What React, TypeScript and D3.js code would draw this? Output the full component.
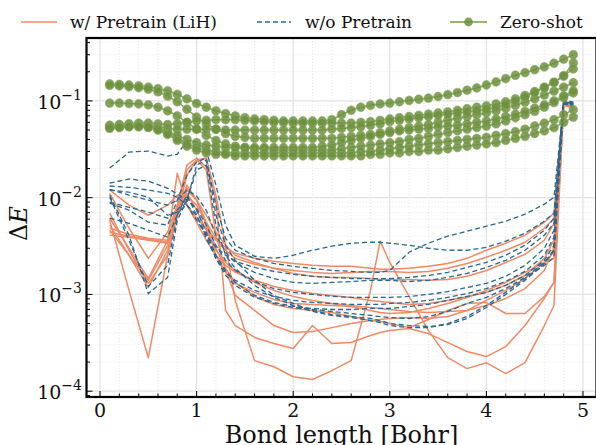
import React from "react";
import * as d3 from "d3";

// Bond lengths for the fine-tuned curves
const X_LINE = [0.1, 0.3, 0.5, 0.7, 0.8, 0.9, 1.0, 1.1, 1.2, 1.3, 1.4, 1.6, 1.8, 2.0, 2.2, 2.4, 2.6, 2.8, 2.9, 3.0, 3.2, 3.4, 3.6, 3.8, 4.0, 4.2, 4.4, 4.6, 4.7, 4.8, 4.9];

// Bond lengths for zero-shot curves
const X_ZS = [0.1, 0.2, 0.3, 0.4, 0.5, 0.6, 0.7, 0.8, 0.9, 1.0, 1.1, 1.2, 1.3, 1.4, 1.5, 1.6, 1.7, 1.8, 1.9, 2.0, 2.1, 2.2, 2.3, 2.4, 2.5, 2.6, 2.7, 2.8, 2.9, 3.0, 3.1, 3.2, 3.3, 3.4, 3.5, 3.6, 3.7, 3.8, 3.9, 4.0, 4.1, 4.2, 4.3, 4.4, 4.5, 4.6, 4.7, 4.8, 4.9];

// w/ Pretrain (LiH)
const PRE_1 = [0.0120, 8.36e-3, 6.58e-3, 8.36e-3, 1.06e-2, 8.36e-3, 6.13e-3, 4.83e-3, 3.63e-3, 3.07e-3, 2.66e-3, 2.36e-3, 2.20e-3, 2.09e-3, 2.00e-3, 1.95e-3, 1.95e-3, 1.86e-3, 1.82e-3, 1.82e-3, 1.86e-3, 1.95e-3, 2.09e-3, 2.36e-3, 2.86e-3, 3.38e-3, 4.09e-3, 5.58e-3, 6.93e-3, 0.0932, 0.0888];
const PRE_2 = [1.11e-2, 4.83e-3, 2.36e-3, 4.39e-3, 8.36e-3, 1.06e-2, 8.36e-3, 5.58e-3, 3.80e-3, 2.86e-3, 2.36e-3, 2.05e-3, 1.86e-3, 1.77e-3, 1.69e-3, 1.65e-3, 1.69e-3, 1.73e-3, 1.73e-3, 1.73e-3, 1.69e-3, 1.73e-3, 1.86e-3, 2.09e-3, 2.42e-3, 2.86e-3, 3.46e-3, 4.83e-3, 6.13e-3, 0.0954, 0.0846];
const PRE_3 = [6.93e-3, 2.86e-3, 1.30e-3, 2.54e-3, 6.58e-3, 1.20e-2, 9.43e-3, 6.58e-3, 4.39e-3, 3.22e-3, 2.54e-3, 2.14e-3, 1.86e-3, 1.65e-3, 1.54e-3, 1.50e-3, 1.50e-3, 1.46e-3, 1.43e-3, 1.43e-3, 1.43e-3, 1.40e-3, 1.43e-3, 1.54e-3, 1.77e-3, 2.14e-3, 2.60e-3, 3.63e-3, 5.44e-3, 0.0977, 0.0867];
const PRE_4 = [6.13e-3, 3.00e-3, 1.46e-3, 3.63e-3, 1.79e-2, 8.36e-3, 5.58e-3, 3.63e-3, 2.54e-3, 2.00e-3, 1.69e-3, 1.40e-3, 1.21e-3, 1.10e-3, 1.02e-3, 9.77e-4, 9.31e-4, 8.67e-4, 8.47e-4, 8.26e-4, 7.88e-4, 8.07e-4, 8.67e-4, 9.54e-4, 1.05e-3, 1.24e-3, 1.57e-3, 2.36e-3, 3.63e-3, 0.0932, 0.0910];
const PRE_5 = [5.85e-3, 1.10e-3, 2.22e-4, 2.54e-3, 7.42e-3, 1.11e-2, 7.42e-3, 4.61e-3, 2.86e-3, 2.14e-3, 1.77e-3, 1.33e-3, 1.10e-3, 9.54e-4, 8.67e-4, 8.07e-4, 7.69e-4, 7.33e-4, 7.16e-4, 6.99e-4, 6.67e-4, 6.51e-4, 6.67e-4, 6.83e-4, 7.69e-4, 9.09e-4, 1.15e-3, 1.77e-3, 3.07e-3, 0.0910, 0.0826];
const PRE_6 = [4.83e-3, 4.19e-3, 3.80e-3, 3.63e-3, 7.42e-3, 1.93e-2, 2.45e-2, 1.93e-2, 4.09e-3, 1.77e-3, 9.77e-4, 6.83e-4, 4.77e-4, 4.04e-4, 4.13e-4, 4.54e-4, 5.00e-4, 5.37e-4, 5.50e-4, 5.64e-4, 5.77e-4, 5.64e-4, 5.91e-4, 6.83e-4, 8.67e-4, 1.10e-3, 1.46e-3, 2.14e-3, 2.73e-3, 0.0888, 0.0932];
const PRE_7 = [4.39e-3, 4.00e-3, 3.72e-3, 3.46e-3, 8.36e-3, 2.17e-2, 2.57e-2, 2.07e-2, 9.43e-3, 6.83e-4, 4.77e-4, 3.59e-4, 3.11e-4, 2.76e-4, 4.77e-4, 3.11e-4, 3.18e-4, 3.76e-4, 4.04e-4, 4.23e-4, 4.44e-4, 3.94e-4, 3.18e-4, 2.57e-4, 2.28e-4, 2.89e-4, 4.77e-4, 9.09e-4, 1.33e-3, 0.0910, 0.0867];
const PRE_8 = [5.20e-3, 2.54e-3, 1.18e-3, 2.86e-3, 6.58e-3, 1.71e-2, 2.45e-2, 2.57e-2, 1.06e-2, 3.22e-3, 8.67e-4, 2.07e-4, 1.79e-4, 1.41e-4, 1.32e-4, 1.63e-4, 2.07e-4, 1.10e-3, 3.55e-3, 2.14e-3, 9.54e-4, 4.23e-4, 2.22e-4, 1.71e-4, 1.97e-4, 1.52e-4, 1.97e-4, 4.77e-4, 7.69e-4, 0.0932, 0.0846];
const PRE_9 = [4.61e-3, 2.54e-3, 1.40e-3, 3.22e-3, 8.36e-3, 1.25e-2, 9.43e-3, 5.58e-3, 3.00e-3, 1.86e-3, 1.33e-3, 9.54e-4, 7.88e-4, 7.16e-4, 6.83e-4, 6.51e-4, 5.91e-4, 5.37e-4, 5.25e-4, 5.00e-4, 4.54e-4, 5.50e-4, 6.83e-4, 8.07e-4, 8.26e-4, 6.35e-4, 6.35e-4, 9.54e-4, 1.33e-3, 0.0954, 0.0888];
const PRE_10 = [4.09e-3, 3.90e-3, 3.63e-3, 3.38e-3, 6.58e-3, 1.35e-2, 9.43e-3, 5.20e-3, 2.54e-3, 1.69e-3, 1.30e-3, 1.05e-3, 8.88e-4, 8.07e-4, 7.88e-4, 7.69e-4, 7.51e-4, 6.83e-4, 6.51e-4, 6.35e-4, 6.51e-4, 7.16e-4, 8.07e-4, 9.31e-4, 1.10e-3, 1.33e-3, 1.69e-3, 2.14e-3, 2.36e-3, 0.0888, 0.0932];

// w/o Pretrain
const NOPRE_1 = [2.02e-2, 2.96e-2, 3.03e-2, 2.69e-2, 2.82e-2, 3.85e-2, 3.76e-2, 3.10e-2, 1.35e-2, 5.20e-3, 3.22e-3, 2.48e-3, 2.36e-3, 2.54e-3, 2.86e-3, 3.15e-3, 3.38e-3, 3.46e-3, 3.46e-3, 3.38e-3, 3.22e-3, 3.00e-3, 2.86e-3, 2.86e-3, 3.07e-3, 3.55e-3, 4.29e-3, 5.71e-3, 6.93e-3, 0.100, 0.0977];
const NOPRE_2 = [1.41e-2, 1.56e-2, 1.48e-2, 1.25e-2, 1.09e-2, 9.43e-3, 2.17e-2, 2.45e-2, 8.36e-3, 3.80e-3, 2.86e-3, 2.36e-3, 2.09e-3, 1.95e-3, 1.86e-3, 1.77e-3, 1.73e-3, 1.69e-3, 1.69e-3, 1.77e-3, 2.73e-3, 3.38e-3, 4.00e-3, 4.50e-3, 5.07e-3, 5.71e-3, 6.75e-3, 8.56e-3, 1.01e-2, 0.0977, 0.0954];
const NOPRE_3 = [1.32e-2, 1.28e-2, 1.20e-2, 1.11e-2, 1.01e-2, 8.36e-3, 5.85e-3, 4.09e-3, 3.07e-3, 2.54e-3, 2.20e-3, 1.90e-3, 1.73e-3, 1.61e-3, 1.54e-3, 1.50e-3, 1.46e-3, 1.46e-3, 1.46e-3, 1.46e-3, 1.50e-3, 1.57e-3, 1.69e-3, 1.90e-3, 2.14e-3, 2.54e-3, 3.22e-3, 4.61e-3, 6.13e-3, 0.0954, 0.0932];
const NOPRE_4 = [1.22e-2, 1.06e-2, 9.43e-3, 8.36e-3, 9.43e-3, 1.20e-2, 1.04e-2, 7.42e-3, 4.09e-3, 2.73e-3, 2.14e-3, 1.69e-3, 1.46e-3, 1.33e-3, 1.30e-3, 1.33e-3, 1.36e-3, 1.40e-3, 1.40e-3, 1.40e-3, 1.36e-3, 1.40e-3, 1.50e-3, 1.65e-3, 1.90e-3, 2.25e-3, 2.86e-3, 4.09e-3, 5.44e-3, 0.0932, 0.0954];
const NOPRE_5 = [1.06e-2, 4.09e-3, 1.02e-3, 1.50e-3, 5.85e-3, 9.43e-3, 7.77e-3, 5.20e-3, 3.22e-3, 2.25e-3, 1.77e-3, 1.36e-3, 1.15e-3, 1.05e-3, 1.00e-3, 9.54e-4, 9.31e-4, 9.31e-4, 9.31e-4, 9.31e-4, 9.54e-4, 1.00e-3, 1.07e-3, 1.18e-3, 1.30e-3, 1.54e-3, 2.00e-3, 3.00e-3, 4.61e-3, 0.0977, 0.0932];
const NOPRE_6 = [1.01e-2, 3.63e-3, 1.21e-3, 2.00e-3, 6.58e-3, 1.06e-2, 6.58e-3, 3.80e-3, 2.36e-3, 1.69e-3, 1.40e-3, 1.10e-3, 9.54e-4, 8.67e-4, 8.26e-4, 8.07e-4, 7.88e-4, 7.88e-4, 7.88e-4, 8.07e-4, 8.26e-4, 8.67e-4, 9.31e-4, 1.02e-3, 1.15e-3, 1.36e-3, 1.73e-3, 2.54e-3, 3.90e-3, 0.0954, 0.0910];
const NOPRE_7 = [8.98e-3, 7.95e-3, 7.10e-3, 6.13e-3, 7.42e-3, 1.01e-2, 7.42e-3, 4.39e-3, 2.54e-3, 1.77e-3, 1.33e-3, 9.77e-4, 8.26e-4, 7.51e-4, 7.16e-4, 6.99e-4, 6.99e-4, 7.16e-4, 7.16e-4, 7.16e-4, 7.51e-4, 7.88e-4, 8.67e-4, 9.54e-4, 1.05e-3, 1.24e-3, 1.57e-3, 2.25e-3, 3.22e-3, 0.0932, 0.0888];
const NOPRE_8 = [8.76e-3, 7.42e-3, 5.58e-3, 5.20e-3, 9.43e-3, 1.71e-2, 2.33e-2, 2.57e-2, 6.58e-3, 3.22e-3, 2.25e-3, 1.40e-3, 9.77e-4, 8.07e-4, 6.83e-4, 6.20e-4, 5.91e-4, 5.64e-4, 5.37e-4, 5.00e-4, 4.77e-4, 4.66e-4, 4.88e-4, 5.64e-4, 7.33e-4, 1.00e-3, 1.40e-3, 2.09e-3, 2.86e-3, 0.100, 0.0932];
const NOPRE_9 = [6.13e-3, 5.44e-3, 4.61e-3, 3.90e-3, 6.58e-3, 9.43e-3, 1.93e-2, 2.17e-2, 5.20e-3, 2.54e-3, 1.86e-3, 1.24e-3, 9.31e-4, 7.69e-4, 6.67e-4, 6.06e-4, 5.77e-4, 5.37e-4, 5.12e-4, 4.77e-4, 4.54e-4, 4.54e-4, 5.00e-4, 5.91e-4, 7.69e-4, 1.05e-3, 1.46e-3, 2.00e-3, 2.42e-3, 0.0954, 0.0888];
const NOPRE_10 = [1.20e-2, 1.14e-2, 1.01e-2, 6.58e-3, 7.10e-3, 8.36e-3, 6.58e-3, 4.09e-3, 2.36e-3, 1.57e-3, 1.24e-3, 9.31e-4, 8.07e-4, 7.33e-4, 6.99e-4, 6.67e-4, 6.35e-4, 6.06e-4, 5.91e-4, 5.77e-4, 5.64e-4, 5.91e-4, 6.67e-4, 8.07e-4, 9.31e-4, 1.15e-3, 1.50e-3, 2.14e-3, 2.86e-3, 0.0977, 0.0954];

// Zero-shot
const ZS_1 = [0.150, 0.148, 0.146, 0.143, 0.139, 0.134, 0.127, 0.117, 0.105, 0.094, 0.086, 0.079, 0.074, 0.070, 0.067, 0.065, 0.064, 0.063, 0.062, 0.062, 0.062, 0.062, 0.062, 0.064, 0.072, 0.080, 0.086, 0.090, 0.093, 0.095, 0.098, 0.101, 0.104, 0.107, 0.111, 0.116, 0.122, 0.129, 0.136, 0.146, 0.157, 0.170, 0.184, 0.196, 0.210, 0.225, 0.245, 0.270, 0.300];
const ZS_2 = [0.145, 0.143, 0.140, 0.137, 0.132, 0.124, 0.112, 0.098, 0.082, 0.068, 0.058, 0.051, 0.046, 0.043, 0.042, 0.041, 0.041, 0.041, 0.041, 0.041, 0.041, 0.041, 0.041, 0.041, 0.042, 0.043, 0.044, 0.045, 0.047, 0.049, 0.051, 0.053, 0.055, 0.057, 0.060, 0.063, 0.066, 0.069, 0.072, 0.075, 0.079, 0.084, 0.090, 0.097, 0.105, 0.115, 0.126, 0.139, 0.154];
const ZS_3 = [0.095, 0.095, 0.094, 0.093, 0.091, 0.086, 0.079, 0.070, 0.060, 0.051, 0.044, 0.039, 0.036, 0.034, 0.033, 0.032, 0.032, 0.031, 0.031, 0.031, 0.031, 0.031, 0.031, 0.031, 0.032, 0.033, 0.034, 0.035, 0.036, 0.037, 0.038, 0.040, 0.041, 0.043, 0.045, 0.047, 0.049, 0.051, 0.053, 0.055, 0.058, 0.062, 0.067, 0.072, 0.078, 0.086, 0.096, 0.108, 0.121];
const ZS_4 = [0.056, 0.057, 0.058, 0.059, 0.059, 0.058, 0.057, 0.058, 0.060, 0.062, 0.063, 0.064, 0.064, 0.064, 0.063, 0.062, 0.061, 0.060, 0.060, 0.059, 0.059, 0.059, 0.059, 0.059, 0.059, 0.059, 0.060, 0.061, 0.063, 0.065, 0.067, 0.069, 0.071, 0.073, 0.075, 0.077, 0.080, 0.083, 0.086, 0.089, 0.093, 0.098, 0.105, 0.114, 0.125, 0.139, 0.156, 0.180, 0.247];
const ZS_5 = [0.055, 0.056, 0.057, 0.057, 0.056, 0.054, 0.052, 0.051, 0.051, 0.051, 0.051, 0.051, 0.050, 0.050, 0.050, 0.050, 0.050, 0.050, 0.050, 0.050, 0.050, 0.050, 0.050, 0.051, 0.052, 0.053, 0.054, 0.056, 0.058, 0.061, 0.063, 0.065, 0.067, 0.069, 0.071, 0.073, 0.075, 0.077, 0.079, 0.082, 0.086, 0.092, 0.100, 0.110, 0.122, 0.137, 0.155, 0.182, 0.214];
const ZS_6 = [0.054, 0.055, 0.056, 0.056, 0.055, 0.052, 0.048, 0.044, 0.040, 0.037, 0.035, 0.034, 0.033, 0.033, 0.033, 0.033, 0.033, 0.033, 0.033, 0.033, 0.033, 0.033, 0.034, 0.035, 0.037, 0.039, 0.041, 0.043, 0.045, 0.047, 0.049, 0.050, 0.051, 0.052, 0.054, 0.055, 0.056, 0.058, 0.060, 0.062, 0.065, 0.069, 0.073, 0.078, 0.084, 0.091, 0.100, 0.113, 0.127];
const ZS_7 = [0.053, 0.054, 0.055, 0.055, 0.054, 0.051, 0.046, 0.041, 0.036, 0.033, 0.031, 0.030, 0.029, 0.029, 0.029, 0.029, 0.029, 0.029, 0.029, 0.029, 0.029, 0.029, 0.029, 0.029, 0.029, 0.029, 0.030, 0.030, 0.031, 0.032, 0.033, 0.034, 0.035, 0.036, 0.037, 0.038, 0.039, 0.040, 0.041, 0.042, 0.044, 0.046, 0.048, 0.051, 0.055, 0.059, 0.064, 0.072, 0.081];
const ZS_8 = [0.052, 0.053, 0.054, 0.054, 0.053, 0.050, 0.045, 0.039, 0.034, 0.031, 0.029, 0.028, 0.028, 0.027, 0.027, 0.027, 0.027, 0.027, 0.027, 0.027, 0.027, 0.027, 0.027, 0.027, 0.027, 0.027, 0.027, 0.028, 0.028, 0.029, 0.029, 0.030, 0.030, 0.031, 0.031, 0.032, 0.033, 0.034, 0.035, 0.036, 0.037, 0.039, 0.041, 0.043, 0.046, 0.049, 0.053, 0.060, 0.068];

const PRETRAIN = [PRE_1, PRE_2, PRE_3, PRE_4, PRE_5, PRE_6, PRE_7, PRE_8, PRE_9, PRE_10];
const NO_PRETRAIN = [NOPRE_1, NOPRE_2, NOPRE_3, NOPRE_4, NOPRE_5, NOPRE_6, NOPRE_7, NOPRE_8, NOPRE_9, NOPRE_10];
const ZERO_SHOT = [ZS_1, ZS_2, ZS_3, ZS_4, ZS_5, ZS_6, ZS_7, ZS_8];

const X_TICKS = [0, 1, 2, 3, 4, 5];
const Y_EXPONENTS = [-4, -3, -2, -1];
const LEGEND = ["w/ Pretrain (LiH)", "w/o Pretrain", "Zero-shot"];

const ORANGE = "#ee8b66";
const BLUE = "#2a6790";
const GREEN = "#789a48";
const FONT = "'DejaVu Serif', serif";

export default function App() {
  const left = 86.5, right = 596.5, top = 38, bottom = 397;
  const x = d3.scaleLinear().domain([-0.14, 5.14]).range([left, right]);
  const y = d3.scaleLog().domain([Math.pow(10, -4.06), Math.pow(10, -0.35)]).range([bottom, top]);

  const lineL = d3.line<number>().x((_, i) => x(X_LINE[i])).y((d) => y(d));
  const lineZ = d3.line<number>().x((_, i) => x(X_ZS[i])).y((d) => y(d));

  const xMinor = d3.range(-0.2, 5.21, 0.2).map((v) => Math.round(v * 10) / 10).filter((v) => Math.abs(v - Math.round(v)) > 1e-6 && v > -0.14 && v < 5.14);
  const yMinor: number[] = [];
  for (let e = -5; e <= 0; e++) for (let k = 2; k <= 9; k++) {
    const v = k * Math.pow(10, e);
    if (v > Math.pow(10, -4.06) && v < Math.pow(10, -0.35)) yMinor.push(v);
  }
  const yMajor = Y_EXPONENTS.map((e) => Math.pow(10, e));

  return (
    <svg width={596} height={445} style={{ position: "absolute", left: 0, top: 0, background: "#fff" }} fontFamily={FONT}>
      <defs>
        <clipPath id="plot"><rect x={left} y={top} width={right - left} height={bottom - top} /></clipPath>
      </defs>
      <rect x={0} y={0} width={596} height={445} fill="#fff" />
      {/* minor grid */}
      <g stroke="#dcdcdc" strokeWidth={0.7} strokeDasharray="1,2">
        {xMinor.map((v) => <line key={"xm" + v} x1={x(v)} x2={x(v)} y1={top} y2={bottom} />)}
        {yMinor.map((v) => <line key={"ym" + v} x1={left} x2={right} y1={y(v)} y2={y(v)} />)}
      </g>
      {/* major grid */}
      <g stroke="#e2e2e2" strokeWidth={1.2}>
        {X_TICKS.map((v) => <line key={"xg" + v} x1={x(v)} x2={x(v)} y1={top} y2={bottom} />)}
        {yMajor.map((v) => <line key={"yg" + v} x1={left} x2={right} y1={y(v)} y2={y(v)} />)}
      </g>
      <g clipPath="url(#plot)" fill="none">
        {PRETRAIN.map((s, i) => <path key={"p" + i} d={lineL(s) || ""} stroke={ORANGE} strokeWidth={1.5} strokeLinejoin="round" />)}
        {NO_PRETRAIN.map((s, i) => <path key={"n" + i} d={lineL(s) || ""} stroke={BLUE} strokeWidth={1.3} strokeDasharray="5,3" />)}
        {ZERO_SHOT.map((s, i) => (
          <g key={"z" + i}>
            <path d={lineZ(s) || ""} stroke={GREEN} strokeWidth={1.5} opacity={0.9} />
            {s.map((v, j) => <circle key={j} cx={x(X_ZS[j])} cy={y(v)} r={4.4} fill="#6f9140" fillOpacity={0.85} stroke="#8aa862" strokeWidth={0.8} strokeOpacity={0.7} />)}
          </g>
        ))}
      </g>
      {/* ticks */}
      <g stroke="#000" strokeWidth={1}>
        {X_TICKS.map((v) => <line key={"xt" + v} x1={x(v)} x2={x(v)} y1={bottom} y2={bottom - 6} />)}
        {xMinor.map((v) => <line key={"xmt" + v} x1={x(v)} x2={x(v)} y1={bottom} y2={bottom - 3.5} />)}
        {yMajor.map((v) => <line key={"yt" + v} x1={left} x2={left + 6} y1={y(v)} y2={y(v)} />)}
        {yMinor.map((v) => <line key={"ymt" + v} x1={left} x2={left + 3.5} y1={y(v)} y2={y(v)} />)}
      </g>
      {/* spines */}
      <rect x={left} y={top} width={right - left} height={bottom - top} fill="none" stroke="#000" strokeWidth={2.2} />
      {/* tick labels */}
      <g fontSize={19} fill="#111">
        {X_TICKS.map((v) => <text key={"xl" + v} x={x(v)} y={417} textAnchor="middle">{v}</text>)}
        {Y_EXPONENTS.map((e) => (
          <text key={"yl" + e} x={82} y={y(Math.pow(10, e)) + 8} textAnchor="end">
            10<tspan dy={-9} fontSize={14}>{"\u2212" + Math.abs(e)}</tspan>
          </text>
        ))}
      </g>
      {/* axis labels */}
      <text x={x(2.5)} y={443} textAnchor="middle" fontSize={24} fill="#111">Bond length [Bohr]</text>
      <text transform={`translate(27, ${(top + bottom) / 2 + 6}) rotate(-90)`} textAnchor="middle" fontSize={24} fill="#111">
        {"\u0394"}<tspan fontStyle="italic">E</tspan>
      </text>
      {/* legend */}
      <g fontSize={17} fill="#111">
        <line x1={21} x2={57} y1={22} y2={22} stroke={ORANGE} strokeWidth={1.6} />
        <text x={70} y={28}>{LEGEND[0]}</text>
        <line x1={257} x2={291} y1={22} y2={22} stroke={BLUE} strokeWidth={1.5} strokeDasharray="5,3" />
        <text x={305} y={28}>{LEGEND[1]}</text>
        <line x1={450} x2={487} y1={22} y2={22} stroke={GREEN} strokeWidth={1.6} />
        <circle cx={468.5} cy={22} r={4.4} fill="#6f9140" fillOpacity={0.85} />
        <text x={500} y={28}>{LEGEND[2]}</text>
      </g>
    </svg>
  );
}
